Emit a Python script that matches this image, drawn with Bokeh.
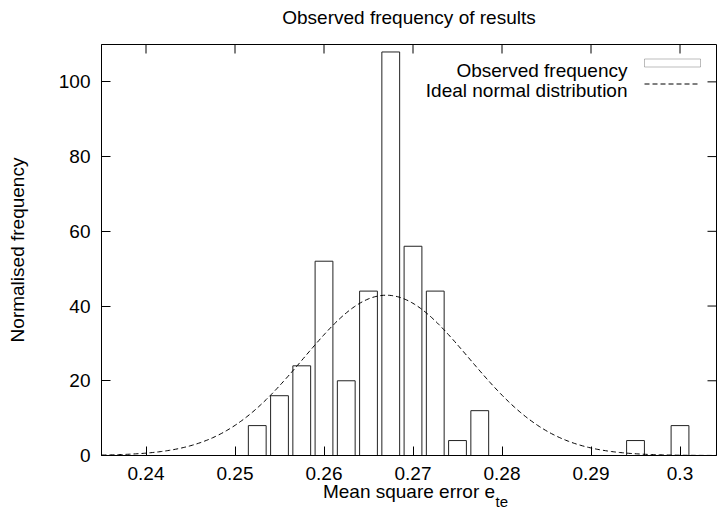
import numpy as np
from bokeh.plotting import figure
from bokeh.models import (Range1d, LinearAxis, FixedTicker, Label, BoxAnnotation,
                          Arrow, Title)
from bokeh.embed import file_html
from bokeh.resources import INLINE

# ---- data ----
bin_centers = [0.2525, 0.255, 0.2575, 0.26, 0.2625, 0.265, 0.2675, 0.27,
               0.2725, 0.275, 0.2775, 0.295, 0.3]
frequency = [8, 16, 24, 52, 20, 44, 108, 56, 44, 4, 12, 4, 8]
bar_width = 0.002
normal_mean = 0.267
normal_sigma = 0.0093
xtick_values = [0.24, 0.25, 0.26, 0.27, 0.28, 0.29, 0.3]
xtick_labels = ["0.24", "0.25", "0.26", "0.27", "0.28", "0.29", "0.3"]
ytick_values = [0, 20, 40, 60, 80, 100]

title_text = "Observed frequency of results"
xlabel_text = "Mean square error e"
xlabel_sub = "te"
ylabel_text = "Normalised frequency"
legend_bar = "Observed frequency"
legend_line = "Ideal normal distribution"

FONT = "Liberation Sans"
FS = "19px"

x0, x1 = 0.235, 0.3041
y0, y1 = 0, 110
p = figure(width=717, height=521, output_backend="svg", toolbar_location=None,
           x_range=Range1d(x0, x1), y_range=Range1d(y0, y1),
           min_border_left=101, min_border_right=1, min_border_top=44,
           min_border_bottom=66, x_axis_location=None, y_axis_location=None)
p.background_fill_color = "white"
p.border_fill_color = "white"
p.outline_line_color = "black"
p.outline_line_width = 1
p.grid.visible = False

def style_axis(ax, ticks):
    ax.ticker = FixedTicker(ticks=ticks)
    ax.major_tick_in = 9
    ax.major_tick_out = 0
    ax.minor_tick_line_color = None
    ax.axis_line_color = "black"
    ax.major_tick_line_color = "black"
    ax.major_label_text_font = FONT
    ax.major_label_text_font_size = FS
    ax.major_label_text_color = "black"

def style_label(ax, text, standoff):
    ax.axis_label = text
    ax.axis_label_text_font = FONT
    ax.axis_label_text_font_size = FS
    ax.axis_label_text_font_style = "normal"
    ax.axis_label_text_color = "black"
    ax.axis_label_standoff = standoff

bottom = LinearAxis()
style_axis(bottom, xtick_values)
bottom.major_label_overrides = {v: s for v, s in zip(xtick_values, xtick_labels)}
bottom.major_label_standoff = 11
style_label(bottom, xlabel_text, -2)
p.add_layout(bottom, "below")

left = LinearAxis()
style_axis(left, ytick_values)
left.major_label_standoff = 11
style_label(left, ylabel_text, 28)
p.add_layout(left, "left")

# plot title, carried by a tick-less axis above the frame
top = LinearAxis(ticker=FixedTicker(ticks=[]), axis_line_color=None,
                 major_tick_line_color=None, minor_tick_line_color=None,
                 major_tick_in=0, major_tick_out=0, minor_tick_in=0, minor_tick_out=0,
                 major_label_standoff=0)
style_label(top, title_text, 17)
p.add_layout(top, "above")

# subscript of the x label
p.add_layout(Title(text=xlabel_sub, align="left", offset=394, vertical_align="top",
                   standoff=-24, text_font=FONT, text_font_size="15px",
                   text_font_style="normal", text_color="black"), "below")

# mirrored ticks on top and right border (gnuplot style)
tick_dy = 9 * (y1 - y0) / 411.0
tick_dx = 9 * (x1 - x0) / 615.0
p.segment(x0=xtick_values, y0=[y1] * len(xtick_values), x1=xtick_values,
          y1=[y1 - tick_dy] * len(xtick_values), line_color="black", line_width=1)
p.segment(x0=[x1] * len(ytick_values), y0=ytick_values, x1=[x1 - tick_dx] * len(ytick_values),
          y1=ytick_values, line_color="black", line_width=1)

# bars
p.vbar(x=bin_centers, top=frequency, bottom=0, width=bar_width,
       fill_color=None, line_color="#222222", line_width=1)

# ideal normal curve
xs = np.linspace(x0, x1, 400)
ys = np.exp(-0.5 * ((xs - normal_mean) / normal_sigma) ** 2) / (normal_sigma * np.sqrt(2 * np.pi))
p.line(xs, ys, line_color="black", line_width=1, line_dash="5 3")

# frame: left=101, bottom=455 (canvas coords)
FL, FB = 101, 455

def lab(text, cx, cy, align="left", size=FS):
    return Label(x=cx - FL, y=FB - cy, x_units="screen", y_units="screen",
                 text=text, text_font=FONT, text_font_size=size,
                 text_align=align, text_baseline="alphabetic", text_color="black")

# legend (gnuplot style: text right-aligned, sample to the right)
p.add_layout(lab(legend_bar, 627, 69.5, align="right"))
p.add_layout(lab(legend_line, 627, 89.5, align="right"))
p.add_layout(BoxAnnotation(left=644 - FL, right=700 - FL, top=FB - 58.5, bottom=FB - 66.5,
                           left_units="screen", right_units="screen",
                           top_units="screen", bottom_units="screen",
                           fill_color=None, line_color="#222222", line_width=1))
p.add_layout(Arrow(x_start=644 - FL, y_start=FB - 83.5, x_end=700 - FL, y_end=FB - 83.5,
                   start_units="screen", end_units="screen", start=None, end=None,
                   line_color="black", line_width=1, line_dash="5 3"))

open("out.html", "w").write(file_html(p, INLINE))
